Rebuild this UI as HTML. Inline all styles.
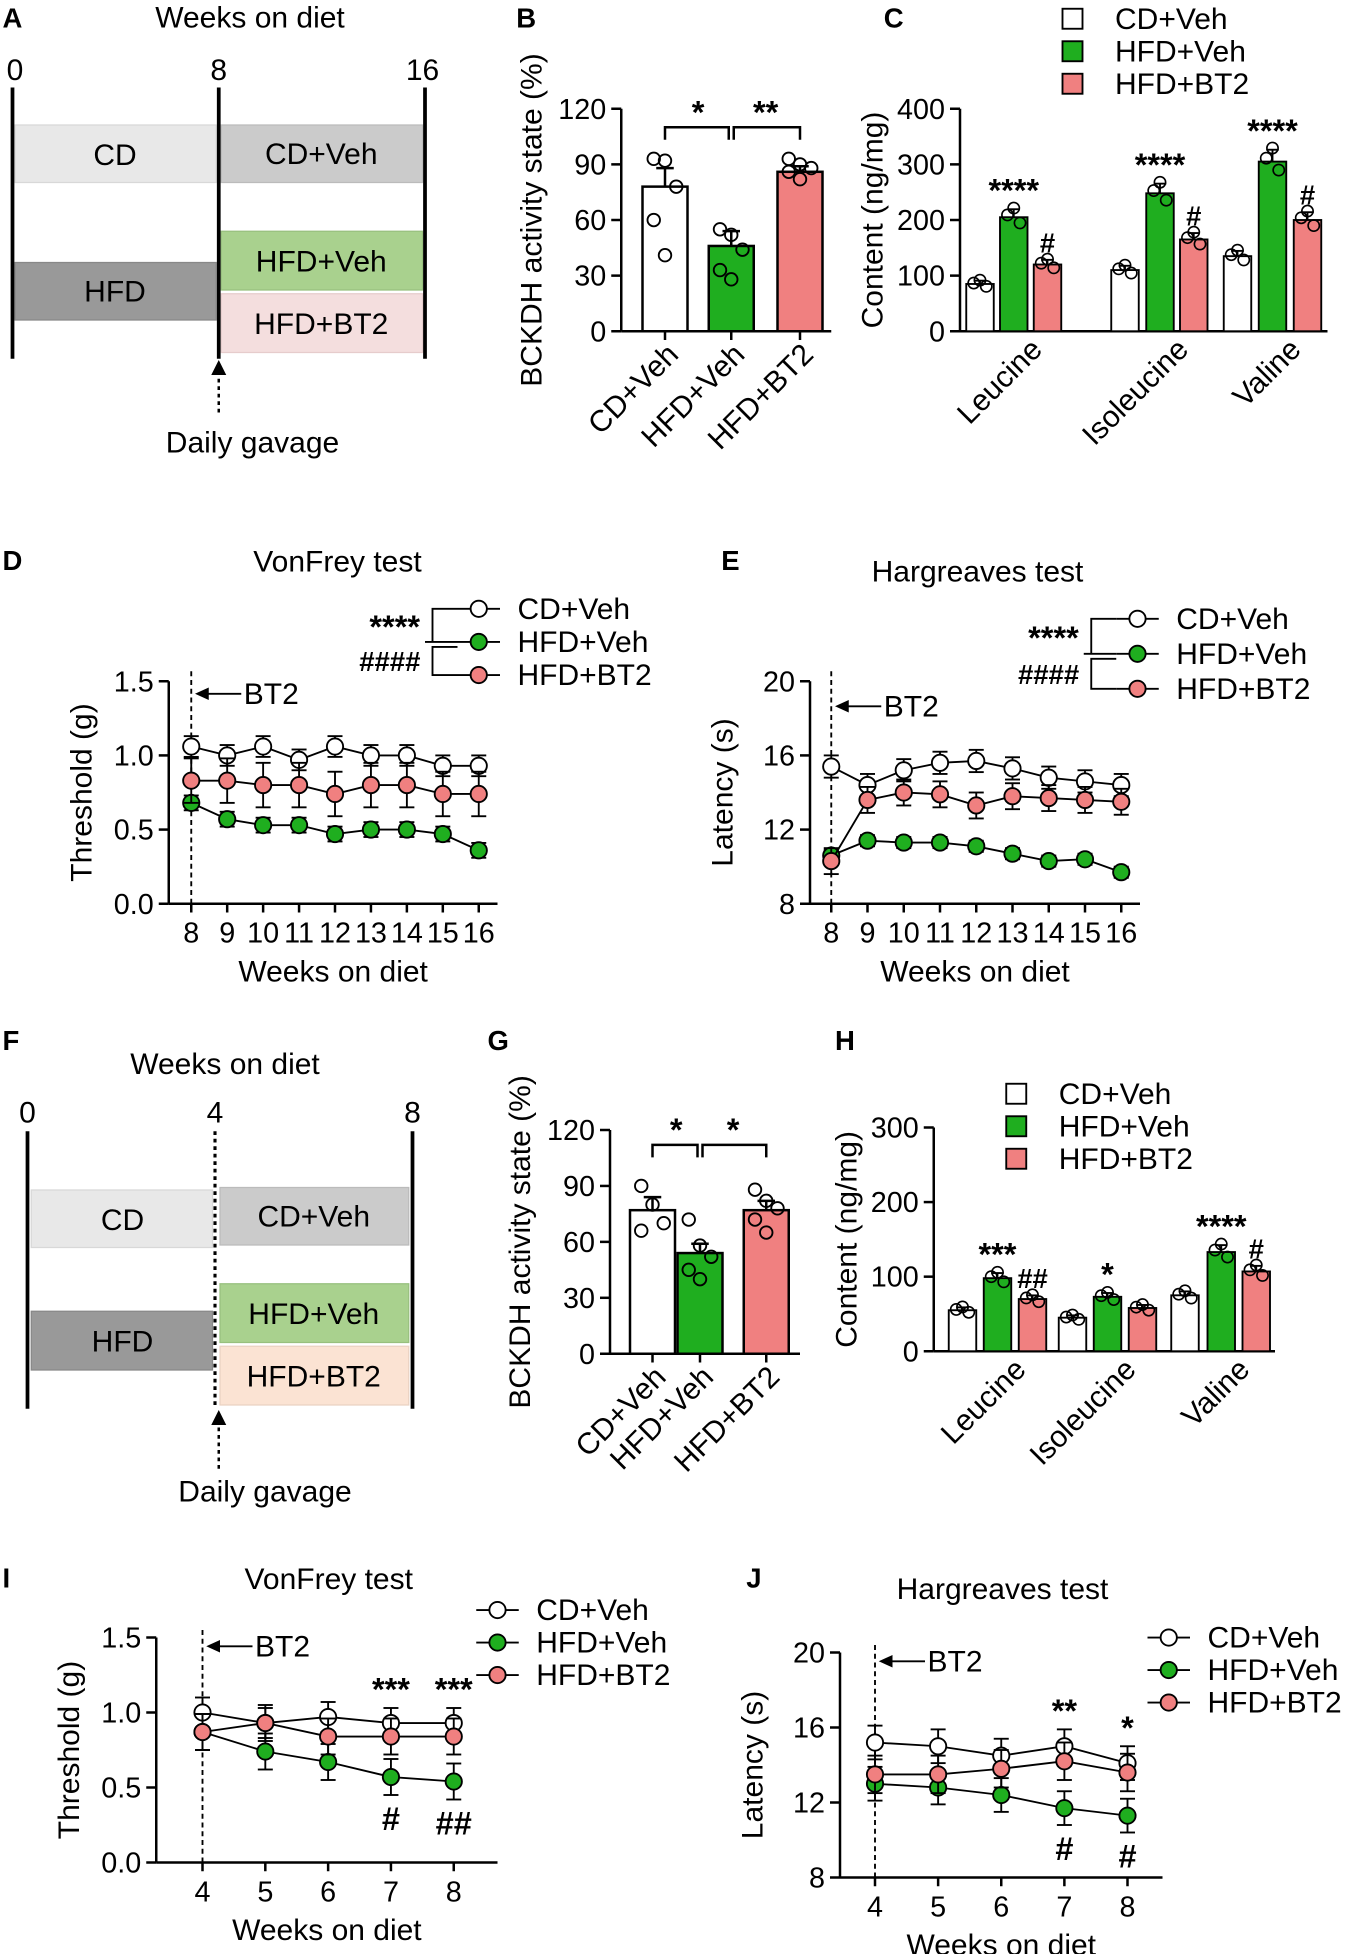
<!DOCTYPE html>
<html><head><meta charset="utf-8"><style>
html,body{margin:0;padding:0;background:#fff}
svg text{font-family:"Liberation Sans",Arial,sans-serif;fill:#000}
</style></head><body>
<svg id="fig" width="1350" height="1954" viewBox="0 0 1080 1563.2" xmlns="http://www.w3.org/2000/svg">
<g id="static" font-size="24">
<g>
<text x="2" y="22" font-weight="bold" font-size="22">A</text>
<text x="200" y="22" text-anchor="middle">Weeks on diet</text>
<text x="12" y="64" text-anchor="middle">0</text><text x="175" y="64" text-anchor="middle">8</text><text x="338" y="64" text-anchor="middle">16</text>
<rect x="12" y="100" width="161" height="46" fill="#e8e8e8" stroke="#d8d8d8"/><text x="92" y="132" text-anchor="middle">CD</text>
<rect x="177" y="100" width="161" height="46" fill="#cbcbcb" stroke="#bbb"/><text x="257" y="131" text-anchor="middle">CD+Veh</text>
<rect x="12" y="210" width="161" height="46" fill="#999" stroke="#888"/><text x="92" y="241" text-anchor="middle">HFD</text>
<rect x="177" y="185" width="161" height="47" fill="#a9d18e" stroke="#98c07e"/><text x="257" y="217" text-anchor="middle">HFD+Veh</text>
<rect x="177" y="235" width="161" height="47" fill="#f4dede" stroke="#e6cccc"/><text x="257" y="267" text-anchor="middle">HFD+BT2</text>
<line x1="10" y1="70" x2="10" y2="287" stroke="#000" stroke-width="3"/>
<line x1="175" y1="70" x2="175" y2="287" stroke="#000" stroke-width="3"/>
<line x1="340" y1="70" x2="340" y2="287" stroke="#000" stroke-width="3"/>
<line x1="175" y1="330" x2="175" y2="298" stroke="#000" stroke-width="2" stroke-dasharray="3,3"/>
<polygon points="175,288 169,300 181,300" fill="#000"/>
<text x="202" y="362" text-anchor="middle">Daily gavage</text>
</g>
<g>
<text x="2" y="840" font-weight="bold" font-size="22">F</text>
<text x="180" y="859" text-anchor="middle">Weeks on diet</text>
<text x="22" y="898" text-anchor="middle">0</text><text x="172" y="898" text-anchor="middle">4</text><text x="330" y="898" text-anchor="middle">8</text>
<rect x="25" y="952" width="145" height="46" fill="#e8e8e8" stroke="#d8d8d8"/><text x="98" y="984" text-anchor="middle">CD</text>
<rect x="176" y="950" width="151" height="46" fill="#cbcbcb" stroke="#bbb"/><text x="251" y="981" text-anchor="middle">CD+Veh</text>
<rect x="25" y="1049" width="145" height="47" fill="#999" stroke="#888"/><text x="98" y="1081" text-anchor="middle">HFD</text>
<rect x="176" y="1027" width="151" height="47" fill="#a9d18e" stroke="#98c07e"/><text x="251" y="1059" text-anchor="middle">HFD+Veh</text>
<rect x="176" y="1077" width="151" height="47" fill="#fbe3d3" stroke="#ead2c2"/><text x="251" y="1109" text-anchor="middle">HFD+BT2</text>
<line x1="22" y1="905" x2="22" y2="1127" stroke="#000" stroke-width="3"/>
<line x1="172" y1="905" x2="172" y2="1127" stroke="#000" stroke-width="2.5" stroke-dasharray="3,3"/>
<line x1="330" y1="905" x2="330" y2="1127" stroke="#000" stroke-width="3"/>
<line x1="175" y1="1175" x2="175" y2="1138" stroke="#000" stroke-width="2" stroke-dasharray="3,3"/>
<polygon points="175,1128 169,1140 181,1140" fill="#000"/>
<text x="212" y="1201" text-anchor="middle">Daily gavage</text>
</g>
<g font-weight="bold" font-size="22">
<text x="413" y="22">B</text><text x="707" y="22">C</text><text x="2" y="456">D</text><text x="577" y="456">E</text>
<text x="390" y="840">G</text><text x="668" y="840">H</text><text x="2" y="1270">I</text><text x="597" y="1270">J</text>
</g>
</g>
<g id="charts"></g>
</svg>
<script>
// ---- Panel B data ----
const bCats=["CD+Veh","HFD+Veh","HFD+BT2"];
const bVals=[78,46,86];
const bErr=[10,8,3];
const bDots=[[93,92,78,60,41],[55,52,44,33,28],[93,90,88,86,82]];
const bTicks=[0,30,60,90,120];
// ---- Panel G data ----
const gCats=["CD+Veh","HFD+Veh","HFD+BT2"];
const gVals=[77,54,77];
const gErr=[7,5,5];
const gDots=[[90,80,70,66],[72,58,52,45,40],[88,82,78,72,65]];
const gTicks=[0,30,60,90,120];
// ---- Panel C data ----
const cGroups=["Leucine","Isoleucine","Valine"];
const cCD=[85,110,135];
const cHFD=[205,248,305];
const cBT2=[120,165,200];
const cTicks=[0,100,200,300,400];
// ---- Panel H data ----
const hGroups=["Leucine","Isoleucine","Valine"];
const hCD=[55,45,75];
const hHFD=[98,73,133];
const hBT2=[70,58,107];
const hTicks=[0,100,200,300];
// ---- Panel D data ----
const dWeeks=[8,9,10,11,12,13,14,15,16];
const dCD=[1.06,1.0,1.06,0.97,1.06,1.0,1.0,0.93,0.93];
const dHFD=[0.68,0.57,0.53,0.53,0.47,0.5,0.5,0.47,0.36];
const dBT2=[0.83,0.83,0.8,0.8,0.74,0.8,0.8,0.74,0.74];
const dYT=[0.0,0.5,1.0,1.5];
// ---- Panel E data ----
const eWeeks=[8,9,10,11,12,13,14,15,16];
const eCD=[15.4,14.4,15.2,15.6,15.7,15.3,14.8,14.6,14.4];
const eHFD=[10.6,11.4,11.3,11.3,11.1,10.7,10.3,10.4,9.7];
const eBT2=[10.3,13.6,14.0,13.9,13.3,13.8,13.7,13.6,13.5];
const eYT=[8,12,16,20];
// ---- Panel I data ----
const iWeeks=[4,5,6,7,8];
const iCD=[1.0,0.93,0.97,0.93,0.93];
const iHFD=[0.87,0.74,0.67,0.57,0.54];
const iBT2=[0.87,0.93,0.84,0.84,0.84];
const iYT=[0.0,0.5,1.0,1.5];
// ---- Panel J data ----
const jWeeks=[4,5,6,7,8];
const jCD=[15.2,15.0,14.5,15.0,14.1];
const jHFD=[13.0,12.8,12.4,11.7,11.3];
const jBT2=[13.5,13.5,13.8,14.2,13.6];
const jYT=[8,12,16,20];

const NS="http://www.w3.org/2000/svg";
const root=document.getElementById('charts');
function mk(tag,attrs,parent,txt){const e=document.createElementNS(NS,tag);for(const k in attrs)e.setAttribute(k,attrs[k]);if(txt!==undefined)e.textContent=txt;(parent||root).appendChild(e);return e;}
const COL=["#ffffff","#1fae1f","#f08080"];

function yAxis(g,x,y0,y1,ticks,vmin,vmax,title,fmt,toff){
  const ys=v=>y0-(v-vmin)/(vmax-vmin)*(y0-y1);
  mk('line',{x1:x,y1:y0,x2:x,y2:y1,stroke:'#000','stroke-width':2},g);
  ticks.forEach(t=>{const y=ys(t);mk('line',{x1:x-8,y1:y,x2:x,y2:y,stroke:'#000','stroke-width':2},g);
    const tl=mk('text',{x:x-12,y:y+8,'text-anchor':'end','font-size':23},g,fmt?fmt(t):t);
    
    });
  const tt=mk('text',{transform:`translate(${x-(toff||62)},${(y0+y1)/2}) rotate(-90)`,'text-anchor':'middle','font-size':24},g,title);
  
  
  return ys;
}

function barChart(name,cats,vals,errs,dots,ticks,xA,xB,y0,y1,centers,w,title,sig){
  const g=mk('g',{});
  
  
  const ys=yAxis(g,xA,y0,y1,ticks,0,120,title,null,64);
  mk('line',{x1:xA,y1:y0,x2:xB,y2:y0,stroke:'#000','stroke-width':2},g);
  cats.forEach((c,i)=>{
    const cx=centers[i],y=ys(vals[i]);
    const b=mk('rect',{x:cx-w/2,y:y,width:w,height:y0-y,fill:COL[i],stroke:'#000','stroke-width':2},g);
    
    
    const ye=ys(vals[i]+errs[i]);
    mk('line',{x1:cx,y1:y,x2:cx,y2:ye,stroke:'#000','stroke-width':2},g);
    mk('line',{x1:cx-7,y1:ye,x2:cx+7,y2:ye,stroke:'#000','stroke-width':2},g);
    dots[i].forEach((d,k)=>{const dt=mk('circle',{cx:cx+((k%3)-1)*9,cy:ys(d),r:5,fill:'none',stroke:'#000','stroke-width':1.5},g);
      
      });
    mk('line',{x1:cx,y1:y0,x2:cx,y2:y0+7,stroke:'#000','stroke-width':2},g);
    const t=mk('text',{transform:`translate(${cx+12},${y0+20}) rotate(-45)`,'text-anchor':'end','font-size':24},g,c);
    
    
  });
  const by=ys(sig.level), midx=(centers[0]+centers[1])/2, mid2=(centers[1]+centers[2])/2;
  mk('path',{d:`M${centers[0]},${by+10}V${by}H${centers[1]-2}V${by+10}M${centers[1]+2},${by+10}V${by}H${centers[2]}V${by+10}`,fill:'none',stroke:'#000','stroke-width':2},g);
  mk('text',{x:midx,y:by-3,'text-anchor':'middle','font-size':26,'font-weight':'bold'},g,sig.a);
  mk('text',{x:mid2,y:by-3,'text-anchor':'middle','font-size':26,'font-weight':'bold'},g,sig.b);
}

function groupChart(name,groups,s1,s2,s3,ticks,vmax,xA,xB,y0,y1,centers,w,title,stars,hashes,legend){
  const g=mk('g',{});
  
  
  const ys=yAxis(g,xA,y0,y1,ticks,0,vmax,title,null,62);
  mk('line',{x1:xA,y1:y0,x2:xB,y2:y0,stroke:'#000','stroke-width':2},g);
  const S=[s1,s2,s3];
  groups.forEach((gn,gi)=>{
    S.forEach((s,si)=>{
      const cx=centers[gi][si],y=ys(s[gi]);
      const b=mk('rect',{x:cx-w/2,y:y,width:w,height:y0-y,fill:COL[si],stroke:'#000','stroke-width':1.5},g);
      
      
      const ye=ys(s[gi]*1.07);
      mk('line',{x1:cx,y1:y,x2:cx,y2:ye,stroke:'#000','stroke-width':1.5},g);
      mk('line',{x1:cx-5,y1:ye,x2:cx+5,y2:ye,stroke:'#000','stroke-width':1.5},g);
      [[-5,1.02],[5,0.95],[0,1.08]].forEach(o=>mk('circle',{cx:cx+o[0],cy:ys(s[gi]*o[1]),r:4.5,fill:'none',stroke:'#000','stroke-width':1.3},g));
    });
    const mx=centers[gi][1];
    if(stars[gi])mk('text',{x:mx,y:ys(s2[gi]*1.07)-6,'text-anchor':'middle','font-size':26,'font-weight':'bold'},g,stars[gi]);
    if(hashes[gi])mk('text',{x:centers[gi][2],y:ys(s3[gi]*1.07)-6,'text-anchor':'middle','font-size':22,'font-weight':'bold'},g,hashes[gi]);
    const t=mk('text',{transform:`translate(${mx+24},${y0+16}) rotate(-45)`,'text-anchor':'end','font-size':24},g,gn);
    
    
  });
  ["CD+Veh","HFD+Veh","HFD+BT2"].forEach((l,i)=>{
    const le=mk('g',{},g);
    
    
    mk('rect',{x:legend[0],y:legend[1]+i*26-8,width:16,height:16,fill:COL[i],stroke:'#000','stroke-width':1.5},le);
    mk('text',{x:legend[0]+42,y:legend[1]+i*26+8,'font-size':24},le,l);
  });
}

function lineChart(name,weeks,s1,s2,s3,yt,vmin,vmax,xA,xB,y0,y1,x0w,dx,title,heading,hx,hy,bt2dy,errs,annot,legend){
  const g=mk('g',{});
  
  
  const fmt=vmax<5?(t=>t.toFixed(1)):null;
  const ys=yAxis(g,xA,y0,y1,yt,vmin,vmax,title,fmt);
  const xs=w=>x0w+(w-weeks[0])*dx;
  mk('line',{x1:xA,y1:y0,x2:xB,y2:y0,stroke:'#000','stroke-width':2},g);
  weeks.forEach(w=>{mk('line',{x1:xs(w),y1:y0,x2:xs(w),y2:y0+7,stroke:'#000','stroke-width':2},g);
    const t=mk('text',{x:xs(w),y:y0+31,'text-anchor':'middle','font-size':23},g,w);
    
    });
  const xt=mk('text',{x:(xA+xB)/2,y:y0+62,'text-anchor':'middle','font-size':24},g,'Weeks on diet');
  
  
  const ht=mk('text',{x:hx,y:hy,'text-anchor':'middle','font-size':24},g,heading);
  
  
  mk('line',{x1:xs(weeks[0]),y1:y0,x2:xs(weeks[0]),y2:y1-8,stroke:'#000','stroke-width':1.5,'stroke-dasharray':'4,3'},g);
  mk('line',{x1:xs(weeks[0])+8,y1:y1+bt2dy,x2:xs(weeks[0])+40,y2:y1+bt2dy,stroke:'#000','stroke-width':1.5},g);
  mk('polygon',{points:`${xs(weeks[0])+3},${y1+bt2dy} ${xs(weeks[0])+14},${y1+bt2dy-5} ${xs(weeks[0])+14},${y1+bt2dy+5}`},g);
  mk('text',{x:xs(weeks[0])+42,y:y1+bt2dy+8,'font-size':24},g,'BT2');
  [s1,s2,s3].forEach((s,si)=>{
    const sg=mk('g',{},g);
    
    
    mk('polyline',{points:weeks.map((w,i)=>xs(w)+','+ys(s[i])).join(' '),fill:'none',stroke:'#000','stroke-width':1.5},sg);
    weeks.forEach((w,i)=>{const e=errs[si];const x=xs(w);
      mk('line',{x1:x,y1:ys(s[i]-e),x2:x,y2:ys(s[i]+e),stroke:'#000','stroke-width':1.5},sg);
      mk('line',{x1:x-6,y1:ys(s[i]+e),x2:x+6,y2:ys(s[i]+e),stroke:'#000','stroke-width':1.5},sg);
      mk('line',{x1:x-6,y1:ys(s[i]-e),x2:x+6,y2:ys(s[i]-e),stroke:'#000','stroke-width':1.5},sg);
      const c=mk('circle',{cx:x,cy:ys(s[i]),r:6.5,fill:COL[si],stroke:'#000','stroke-width':1.5},sg);
      
      });
  });
  annot.forEach(a=>{mk('text',{x:xs(a[0]),y:a[2]==='up'?ys(s1[weeks.indexOf(a[0])]+errs[0])-6:ys(s2[weeks.indexOf(a[0])]-errs[1])+28,'text-anchor':'middle','font-size':26,'font-weight':'bold'},g,a[1]);});
  ["CD+Veh","HFD+Veh","HFD+BT2"].forEach((l,i)=>{
    const le=mk('g',{},g);
    
    
    const ly=legend.y+i*legend.dy;
    mk('line',{x1:legend.x,y1:ly,x2:legend.x+34,y2:ly,stroke:'#000','stroke-width':1.5},le);
    mk('circle',{cx:legend.x+17,cy:ly,r:6.5,fill:COL[i],stroke:'#000','stroke-width':1.5},le);
    mk('text',{x:legend.x+48,y:ly+8,'font-size':24},le,l);
  });
  if(legend.sig){
    const lx=legend.x-20,ly=legend.y;
    mk('path',{d:`M${legend.x},${ly}H${lx}V${ly+legend.dy}H${legend.x}M${lx-6},${ly+legend.dy}H${lx}M${legend.x},${ly+legend.dy+4}H${lx}V${ly+2*legend.dy}H${legend.x}`,fill:'none',stroke:'#000','stroke-width':1.5},g);
    mk('text',{x:lx-10,y:ly+legend.dy/2+10,'text-anchor':'end','font-size':26,'font-weight':'bold'},g,'****');
    mk('text',{x:lx-10,y:ly+legend.dy*1.5+10,'text-anchor':'end','font-size':22,'font-weight':'bold','font-style':'italic'},g,'####');
  }
}

barChart('panel-b-bckdh-bars',bCats,bVals,bErr,bDots,bTicks,497,665,265,87,[532,585,640],36,'BCKDH activity state (%)',{level:110,a:'*',b:'**'});
barChart('panel-g-bckdh-bars',gCats,gVals,gErr,gDots,gTicks,488,640,1083,904,[522,560,613],36,'BCKDH activity state (%)',{level:112,a:'*',b:'*'});
groupChart('panel-c-bcaa-bars',cGroups,cCD,cHFD,cBT2,cTicks,400,768,1062,265,87,[[784,811,838],[900,928,955],[990,1018,1046]],22,'Content (ng/mg)',['****','****','****'],['#','#','#'],[850,15]);
groupChart('panel-h-bcaa-bars',hGroups,hCD,hHFD,hBT2,hTicks,300,747,1020,1081,902,[[770,798,826],[858,886,914],[948,977,1005]],22,'Content (ng/mg)',['***','*','****'],['##','','#'],[805,875]);
lineChart('panel-d-vonfrey',dWeeks,dCD,dHFD,dBT2,dYT,0,1.5,135,398,723,545,153,28.75,'Threshold (g)','VonFrey test',270,457,10,[0.07,0.05,0.15],[],{x:366,y:487,dy:26.5,sig:true});
lineChart('panel-e-hargreaves',eWeeks,eCD,eHFD,eBT2,eYT,8,20,648,912,723,545,665,29,'Latency (s)','Hargreaves test',782,465,20,[0.6,0.3,0.7],[],{x:893,y:495,dy:28,sig:true});
lineChart('panel-i-vonfrey',iWeeks,iCD,iHFD,iBT2,iYT,0,1.5,125,398,1490,1310,162,50.25,'Threshold (g)','VonFrey test',263,1271,7,[0.1,0.12,0.12],[[7,'***','up'],[8,'***','up'],[7,'#','dn'],[8,'##','dn']],{x:381,y:1288,dy:26});
lineChart('panel-j-hargreaves',jWeeks,jCD,jHFD,jBT2,jYT,8,20,672,930,1502,1322,700,50.5,'Latency (s)','Hargreaves test',802,1279,7,[0.9,0.9,1.0],[[7,'**','up'],[8,'*','up'],[7,'#','dn'],[8,'#','dn']],{x:918,y:1310,dy:26});
</script>
</body></html>
